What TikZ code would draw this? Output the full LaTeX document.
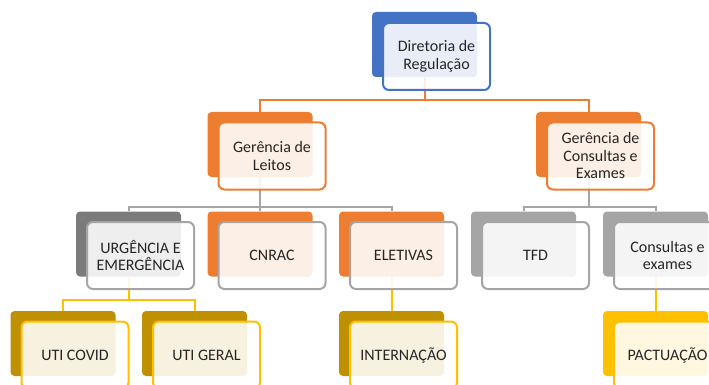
\documentclass[tikz,border=0pt]{standalone}
\usepackage{fontspec}
\setmainfont{Carlito}
\usepackage{xcolor}
\definecolor{textdark}{HTML}{262626}
\definecolor{blue}{HTML}{4472C4}
\definecolor{orange}{HTML}{ED7D31}
\definecolor{greylight}{HTML}{A5A5A5}
\definecolor{greydark}{HTML}{7B7B7B}
\definecolor{yellow}{HTML}{FFC000}
\definecolor{gold}{HTML}{BF9000}
\usetikzlibrary{positioning}

\tikzset{
  back/.style={rectangle, rounded corners=4pt, inner sep=0pt,
    minimum width=105pt, minimum height=65pt, fill=#1},
  front/.style={rectangle, rounded corners=6pt, line width=2pt, draw=#1,
    fill=white, fill opacity=0.88, text opacity=1, text=textdark,
    minimum width=107pt, minimum height=67pt, inner sep=0pt, align=center,
    font=\fontsize{16}{17.5}\selectfont},
  link/.style={line width=2pt, #1}
}

\begin{document}
\begin{tikzpicture}[x=1pt, y=-1pt]
    \clip (0,0) rectangle (709,385);
    % back plates
    \node[back=blue] (dir-b) at (424.5,44.5) {};
    \node[back=orange] (lei-b) at (260,144.5) {};
    \node[back=orange] (con-b) at (588.5,144.5) {};
    \node[back=greydark] (urg-b) at (128.5,244) {};
    \node[back=orange] (cnr-b) at (260,244) {};
    \node[back=orange] (ele-b) at (391.5,244) {};
    \node[back=greylight] (tfd-b) at (523.5,244) {};
    \node[back=greylight] (cex-b) at (655.5,244) {};
    \node[back=gold] (cov-b) at (63,343.5) {};
    \node[back=gold] (ger-b) at (194.5,343.5) {};
    \node[back=gold] (int-b) at (391.5,343.5) {};
    \node[back=yellow] (pac-b) at (655.5,343.5) {};
    % connectors
    \draw[link=orange] (dir-b.south) -- ++(0,23) -| (lei-b.north);
    \draw[link=orange] (dir-b.south) -- ++(0,23) -| (con-b.north);
    \draw[link=greylight] (lei-b.south) -- ++(0,30) -| (urg-b.north);
    \draw[link=greylight] (lei-b.south) -- (cnr-b.north);
    \draw[link=greylight] (lei-b.south) -- ++(0,30) -| (ele-b.north);
    \draw[link=greylight] (con-b.south) -- ++(0,30) -| (tfd-b.north);
    \draw[link=greylight] (con-b.south) -- ++(0,30) -| (cex-b.north);
    \draw[link=yellow] (urg-b.south) -- ++(0,23) -| (cov-b.north);
    \draw[link=yellow] (urg-b.south) -- ++(0,23) -| (ger-b.north);
    \draw[link=yellow] (ele-b.south) -- (int-b.north);
    \draw[link=yellow] (cex-b.south) -- (pac-b.north);
    % front boxes
    \node[front=blue] (dir) at (436.5,56.5) {Diretoria de\\Regulação};
    \node[front=orange] (lei) at (272,156) {Gerência de\\Leitos};
    \node[front=orange] (con) at (600.5,156) {Gerência de\\Consultas e\\Exames};
    \node[front=greylight] (urg) at (140.5,255.5) {URGÊNCIA E\\EMERGÊNCIA};
    \node[front=greylight] (cnr) at (272,255.5) {CNRAC};
    \node[front=greylight] (ele) at (403.5,255.5) {ELETIVAS};
    \node[front=greylight] (tfd) at (535.5,255.5) {TFD};
    \node[front=greylight] (cex) at (667.5,255.5) {Consultas e\\exames};
    \node[front=yellow] (cov) at (75,355) {UTI COVID};
    \node[front=yellow] (ger) at (206.5,355) {UTI GERAL};
    \node[front=yellow] (int) at (403.5,355) {INTERNAÇÃO};
    \node[front=yellow] (pac) at (667.5,355) {PACTUAÇÃO};
\end{tikzpicture}
\end{document}
